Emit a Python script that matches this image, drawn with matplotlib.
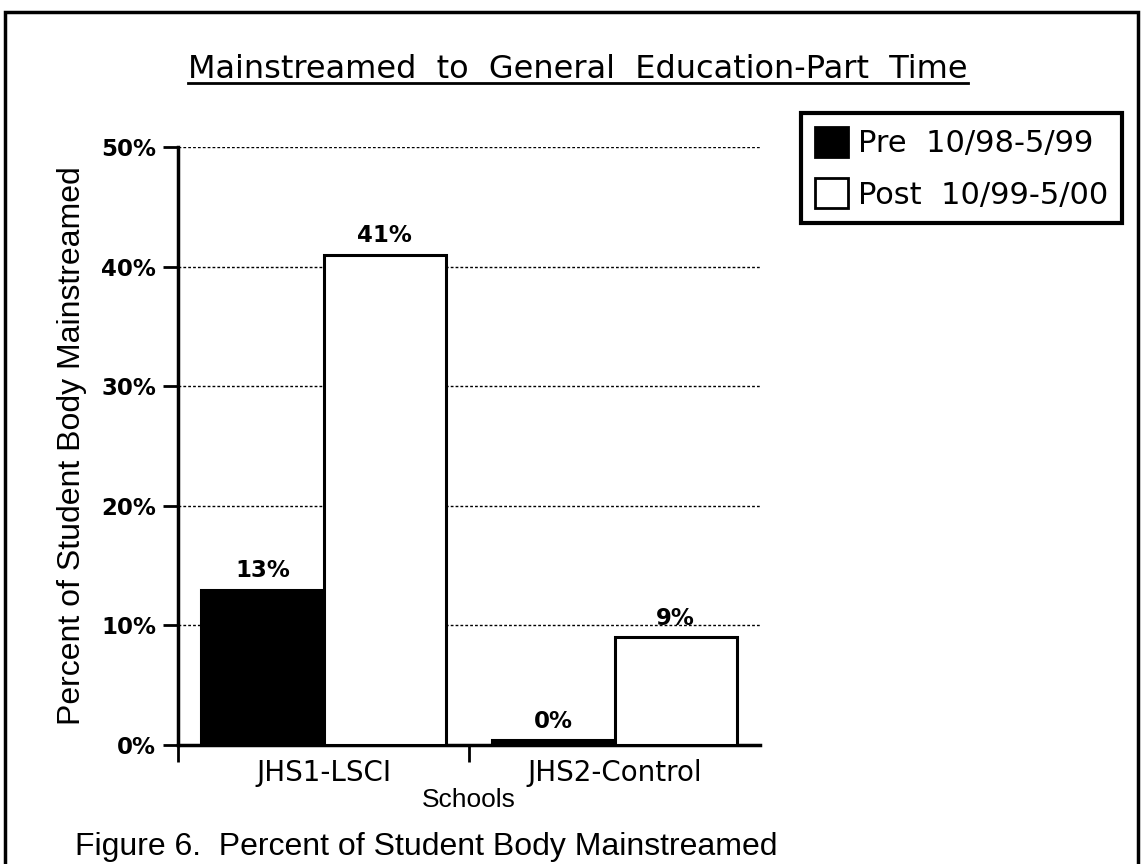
import matplotlib.pyplot as plt
import numpy as np
from matplotlib.patches import Patch, Rectangle
from matplotlib.lines import Line2D

# Доля учащихся, переведённых в общее образование (неполный день)
schools = ["JHS1-LSCI", "JHS2-Control"]
pre = [13, 0.4]
post = [41, 9]
series_names = ["Pre  10/98-5/99", "Post  10/99-5/00"]
yticks = [0, 10, 20, 30, 40, 50]

plt.rcParams.update({'font.family': 'DejaVu Sans'})

fig = plt.figure(figsize=(11.42, 8.64), dpi=100)
ax = fig.add_axes([0.156, 0.1377, 0.5095, 0.6922])

x = np.arange(len(schools))
w = 0.42
ax.bar(x - w / 2, pre, width=w, color='black', edgecolor='black', linewidth=2.2, zorder=3)
ax.bar(x + w / 2, post, width=w, color='white', edgecolor='black', linewidth=2.2, zorder=3)

# подписи значений над столбцами
for xi, v in zip(x - w / 2, pre):
    ax.text(xi, v + 0.6, f"{v:.0f}%", ha='center', va='bottom', fontsize=16.5, fontweight='bold')
for xi, v in zip(x + w / 2, post):
    ax.text(xi, v + 0.6, f"{v:.0f}%", ha='center', va='bottom', fontsize=16.5, fontweight='bold')

ax.set_xlim(-0.5, 1.5)
ax.set_ylim(0, 50)
ax.set_yticks(yticks)
ax.set_yticklabels([f"{t}%" for t in yticks], fontsize=16.5, fontweight='bold')
ax.tick_params(axis='y', direction='out', length=11, width=2, pad=5)
ax.yaxis.grid(True, linestyle=(0, (2, 1.5)), color='black', linewidth=1)
ax.set_axisbelow(True)

ax.set_xticks(x)
ax.set_xticklabels(schools, fontsize=20)
ax.tick_params(axis='x', which='major', length=0, pad=10)
ax.set_xticks([-0.5, 0.5], minor=True)
ax.tick_params(axis='x', which='minor', direction='out', length=12, width=2)

for s in ['top', 'right']:
    ax.spines[s].set_visible(False)
for s in ['left', 'bottom']:
    ax.spines[s].set_linewidth(2.5)

ax.set_ylabel("Percent of Student Body Mainstreamed", family='Liberation Sans',
              fontsize=23, labelpad=10)
ax.set_xlabel("Schools", family='Liberation Sans', fontsize=19, labelpad=1)

# легенда
handles = [Patch(facecolor='black', edgecolor='black', linewidth=2),
           Patch(facecolor='white', edgecolor='black', linewidth=2)]
leg = fig.legend(handles, series_names, loc='upper left',
                 bbox_to_anchor=(801 / 1142, 1 - 113 / 864), borderaxespad=0,
                 fontsize=22, fancybox=False, framealpha=1,
                 handlelength=1.1, handleheight=1.15, handletextpad=0.3,
                 labelspacing=0.65, borderpad=0.45)
leg.get_frame().set_edgecolor('black')
leg.get_frame().set_linewidth(3)

# заголовок с подчёркиванием
title = fig.text(0.506, 1 - 78 / 864, "Mainstreamed  to  General  Education-Part  Time",
                 ha='center', va='baseline', fontsize=23)
fig.canvas.draw()
bb = title.get_window_extent().transformed(fig.transFigure.inverted())
fig.add_artist(Line2D([bb.x0, bb.x1], [bb.y0 + 0.002, bb.y0 + 0.002],
                      transform=fig.transFigure, color='black', linewidth=2))

fig.text(75 / 1142, 1 - 855 / 864, "Figure 6.  Percent of Student Body Mainstreamed",
         ha='left', va='baseline', family='Liberation Sans', fontsize=23)

# рамка вокруг рисунка
fig.add_artist(Rectangle((5 / 1142, -0.05), 1133 / 1142, 1.05 - 12 / 864,
                         transform=fig.transFigure, fill=False,
                         edgecolor='black', linewidth=2.5))

fig.savefig("out.png", dpi=100)
